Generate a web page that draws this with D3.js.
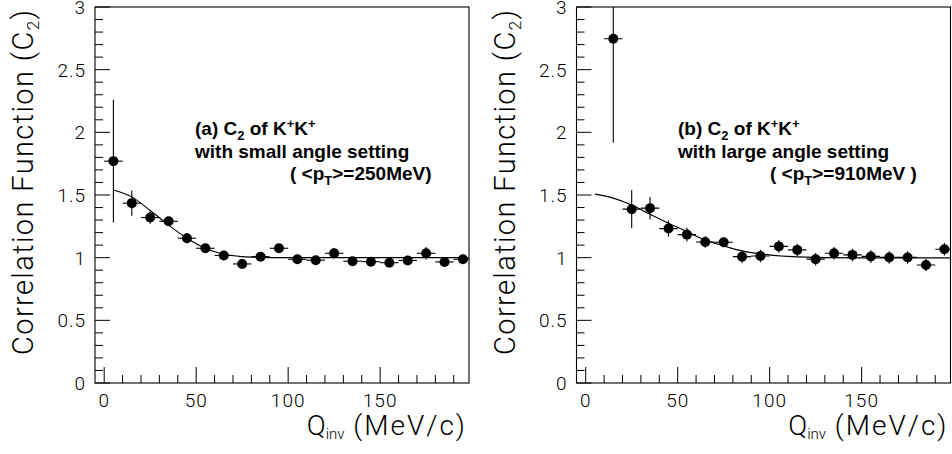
<!DOCTYPE html>
<html>
<head>
<meta charset="utf-8">
<script src="https://cdn.jsdelivr.net/npm/d3@7"></script>
<style>
  html, body { margin: 0; padding: 0; background: #fff; }
  svg { display: block; }
  .thin { font-family: "Roboto", "Open Sans", "DejaVu Sans", sans-serif; font-weight: 300; fill: #000; }
  .bold { font-family: "Liberation Sans", Arial, sans-serif; font-weight: bold; fill: #000; }
</style>
</head>
<body>
<svg id="chart" width="952" height="454"></svg>
<script>
// ---------------- data ----------------
const leftQ   = [5, 15, 25, 35, 45, 55, 65, 75, 85, 95, 105, 115, 125, 135, 145, 155, 165, 175, 185, 195];
const leftC2  = [1.77, 1.435, 1.32, 1.29, 1.155, 1.075, 1.018, 0.95, 1.008, 1.075, 0.987, 0.98, 1.035, 0.972, 0.968, 0.96, 0.978, 1.035, 0.966, 0.987];
const leftErr = [0.49, 0.10, 0.05, 0.035, 0.04, 0.03, 0.025, 0.02, 0.02, 0.02, 0.02, 0.02, 0.04, 0.02, 0.02, 0.02, 0.02, 0.05, 0.02, 0.02];

const rightQ   = [15, 25, 35, 45, 55, 65, 75, 85, 95, 105, 115, 125, 135, 145, 155, 165, 175, 185, 195];
const rightC2  = [2.747, 1.387, 1.395, 1.232, 1.184, 1.125, 1.123, 1.008, 1.013, 1.09, 1.062, 0.988, 1.035, 1.022, 1.01, 1.002, 1.002, 0.942, 1.067];
const rightErr = [0.83, 0.15, 0.09, 0.065, 0.055, 0.045, 0.04, 0.05, 0.05, 0.05, 0.05, 0.05, 0.05, 0.05, 0.05, 0.05, 0.05, 0.05, 0.05];

const binHalfWidth = 5;

// fitted curves
const fitQ     = [5, 15, 25, 35, 45, 55, 65, 75, 85, 95, 110, 130, 160, 198];
const fitLeft  = [1.54, 1.485, 1.376, 1.26, 1.155, 1.075, 1.027, 1.008, 1.002, 1.0, 1.0, 1.0, 1.0, 1.0];
const fitRight = [1.507, 1.475, 1.42, 1.347, 1.275, 1.208, 1.14, 1.094, 1.054, 1.03, 1.01, 1.0, 0.998, 0.998];

const xMajorTicks = [0, 50, 100, 150];
const xMinorTicks = [10, 20, 30, 40, 60, 70, 80, 90, 110, 120, 130, 140, 160, 170, 180, 190];
const yMajorTicks = [0, 0.5, 1, 1.5, 2, 2.5, 3];
const yTickLabels = ["0", "0.5", "1", "1.5", "2", "2.5", "3"];
const yMinorTicks = [0.1,0.2,0.3,0.4,0.6,0.7,0.8,0.9,1.1,1.2,1.3,1.4,1.6,1.7,1.8,1.9,2.1,2.2,2.3,2.4,2.6,2.7,2.8,2.9];

const labelA = { tag: "(a)", line2: "with small angle setting", pt: "250MeV)" };
const labelB = { tag: "(b)", line2: "with large angle setting", pt: "910MeV )" };

// ---------------- drawing ----------------
const svg = d3.select("#chart");
const xDomain = [-5, 198.3];
const yScale = d3.scaleLinear().domain([0, 3]).range([383, 7]);

function panel(opts) {
  const x = d3.scaleLinear().domain(xDomain).range([opts.left, opts.right]);
  const y = yScale;
  const g = svg.append("g");
  const clipId = "clip" + opts.id;
  g.append("clipPath").attr("id", clipId).append("rect")
    .attr("x", opts.left).attr("y", y(3)).attr("width", opts.right - opts.left).attr("height", y(0) - y(3));

  // frame
  g.append("rect").attr("x", opts.left).attr("y", y(3))
    .attr("width", opts.right - opts.left).attr("height", y(0) - y(3))
    .attr("fill", "none").attr("stroke", "#000").attr("stroke-width", 1.1);

  // y ticks (inward)
  g.selectAll(".ymaj").data(yMajorTicks).enter().append("line")
    .attr("x1", opts.left).attr("x2", opts.left + 15)
    .attr("y1", d => y(d)).attr("y2", d => y(d)).attr("stroke", "#000");
  g.selectAll(".ymin").data(yMinorTicks).enter().append("line")
    .attr("x1", opts.left).attr("x2", opts.left + 8)
    .attr("y1", d => y(d)).attr("y2", d => y(d)).attr("stroke", "#000");
  // x ticks (inward)
  g.selectAll(".xmaj").data(xMajorTicks).enter().append("line")
    .attr("x1", d => x(d)).attr("x2", d => x(d))
    .attr("y1", y(0)).attr("y2", y(0) - 16).attr("stroke", "#000");
  g.selectAll(".xmin").data(xMinorTicks).enter().append("line")
    .attr("x1", d => x(d)).attr("x2", d => x(d))
    .attr("y1", y(0)).attr("y2", y(0) - 8).attr("stroke", "#000");

  // tick labels
  g.selectAll(".ylab").data(yMajorTicks).enter().append("text")
    .attr("class", "thin").attr("x", opts.left - 9).attr("y", d => y(d))
    .attr("dy", "0.36em").attr("text-anchor", "end")
    .style("font-size", "19px").style("letter-spacing", "1px")
    .text((d, i) => yTickLabels[i]);
  g.selectAll(".xlab").data(xMajorTicks).enter().append("text")
    .attr("class", "thin").attr("x", d => x(d)).attr("y", 407)
    .attr("text-anchor", "middle")
    .style("font-size", "19px").style("letter-spacing", "1px")
    .text(d => d);

  // axis titles
  const yt = g.append("text").attr("class", "thin")
    .attr("transform", `translate(${opts.left - 62},182.5) rotate(-90)`)
    .attr("text-anchor", "middle").style("font-size", "29px")
    .attr("textLength", 345).attr("lengthAdjust", "spacing");
  yt.append("tspan").text("Correlation Function (C");
  yt.append("tspan").attr("dy", 6).style("font-size", "17px").text("2");
  yt.append("tspan").attr("dy", -6).text(")");

  const xt = g.append("text").attr("class", "thin")
    .attr("x", opts.right - 2).attr("y", 435).attr("text-anchor", "end")
    .style("font-size", "28px");
  xt.append("tspan").text("Q");
  xt.append("tspan").attr("dy", 4).style("font-size", "15px").text("inv");
  xt.append("tspan").attr("dy", -4).style("letter-spacing", "2px").text(" (MeV/c)");

  // fit curve
  const line = d3.line().x(d => x(d[0])).y(d => y(d[1])).curve(d3.curveMonotoneX);
  g.append("path").datum(fitQ.map((q, i) => [q, opts.fit[i]]))
    .attr("d", line).attr("fill", "none").attr("stroke", "#000").attr("stroke-width", 1.1)
    .attr("clip-path", `url(#${clipId})`);

  // data points with error bars
  const pts = opts.q.map((q, i) => ({ q, v: opts.c2[i], e: opts.err[i] }));
  const pg = g.append("g").attr("clip-path", `url(#${clipId})`);
  pg.selectAll(".ex").data(pts).enter().append("line")
    .attr("x1", d => x(d.q - binHalfWidth)).attr("x2", d => x(d.q + binHalfWidth))
    .attr("y1", d => y(d.v)).attr("y2", d => y(d.v)).attr("stroke", "#000").attr("stroke-width", 1.1);
  pg.selectAll(".ey").data(pts).enter().append("line")
    .attr("x1", d => x(d.q)).attr("x2", d => x(d.q))
    .attr("y1", d => y(d.v - d.e)).attr("y2", d => y(d.v + d.e)).attr("stroke", "#000").attr("stroke-width", 1.1);
  pg.selectAll("circle").data(pts).enter().append("circle")
    .attr("cx", d => x(d.q)).attr("cy", d => y(d.v)).attr("r", 5).attr("fill", "#000");

  // annotation
  const lab = opts.label;
  const t1 = g.append("text").attr("class", "bold").attr("x", opts.textX).attr("y", 135).style("font-size", "19px");
  t1.append("tspan").text(lab.tag + " C");
  t1.append("tspan").attr("dy", 5).style("font-size", "13px").text("2");
  t1.append("tspan").attr("dy", -5).text(" of K");
  t1.append("tspan").attr("dy", -7).style("font-size", "13px").text("+");
  t1.append("tspan").attr("dy", 7).text("K");
  t1.append("tspan").attr("dy", -7).style("font-size", "13px").text("+");
  g.append("text").attr("class", "bold").attr("x", opts.textX).attr("y", 157.5).style("font-size", "19px").text(lab.line2);
  const t3 = g.append("text").attr("class", "bold").attr("x", opts.textX + opts.ptOffset).attr("y", 180).style("font-size", "19px");
  t3.append("tspan").text("( <p");
  t3.append("tspan").attr("dy", 5).style("font-size", "13px").text("T");
  t3.append("tspan").attr("dy", -5).text(">=" + lab.pt);
}

panel({ id: "a", left: 95, right: 469, q: leftQ, c2: leftC2, err: leftErr, fit: fitLeft, label: labelA, textX: 195, ptOffset: 95 });
panel({ id: "b", left: 576.5, right: 950.5, q: rightQ, c2: rightC2, err: rightErr, fit: fitRight, label: labelB, textX: 678, ptOffset: 92 });
</script>
</body>
</html>
